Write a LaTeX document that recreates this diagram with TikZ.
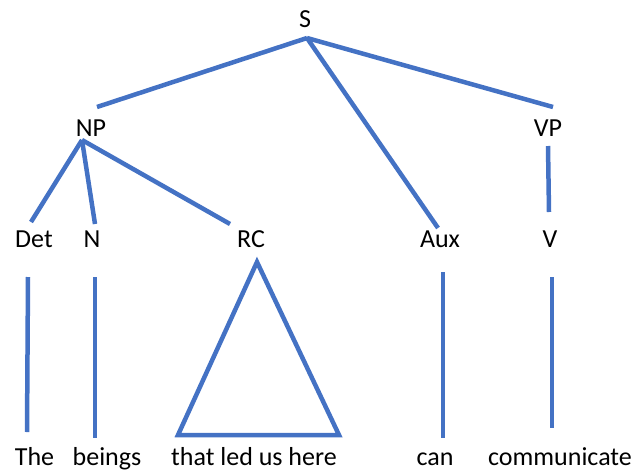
\documentclass[tikz,border=0pt]{standalone}
\usepackage{fontspec}
\setmainfont{Carlito}
\definecolor{tb}{RGB}{68,114,196}
\begin{document}
\begin{tikzpicture}[x=1pt,y=-1pt,
  lbl/.style={anchor=base,inner sep=0pt,font=\fontsize{26}{30}\selectfont},
  br/.style={draw=tb,line width=4.5pt}]
\useasboundingbox (0,0) rectangle (635,472);
% labels
\node[lbl] (S) at (305,27) {S};
\node[lbl] (NP) at (91,136) {NP};
\node[lbl] (VP) at (548,136) {VP};
\node[lbl] (Det) at (34,247) {Det};
\node[lbl] (N) at (92,247) {N};
\node[lbl] (RC) at (251,247) {RC};
\node[lbl] (Aux) at (440,247) {Aux};
\node[lbl] (V) at (550,247) {V};
\node[lbl] (The) at (34.5,465) {The};
\node[lbl] (beings) at (107,465) {beings};
\node[lbl] (tl) at (254,465) {that led us here};
\node[lbl] (can) at (435,465) {can};
\node[lbl] (comm) at (560,465) {communicate};
% line endpoints
\coordinate (Sb) at (307,38);
\coordinate (NPt) at (97,107);
\coordinate (VPt) at (553,107);
\coordinate (Auxt) at (438,228);
\coordinate (NPb) at (82,140);
\coordinate (Dett) at (31,222);
\coordinate (Nt) at (95,224);
\coordinate (RCt) at (230,224);
\coordinate (VPb) at (548,146);
\coordinate (Vt) at (549,212);
\coordinate (Detb) at (28,277);
\coordinate (Theb) at (27,432);
\coordinate (Nb) at (95,277);
\coordinate (beingst) at (95,438);
\coordinate (Auxb) at (443,272);
\coordinate (cant) at (443,438);
\coordinate (Vb) at (552,277);
\coordinate (commt) at (552,428);
\coordinate (RCa) at (257,262);
\coordinate (RCl) at (178,435);
\coordinate (RCr) at (339,435);
% branches
\draw[br] (Sb) -- (NPt);
\draw[br] (Sb) -- (VPt);
\draw[br] (Sb) -- (Auxt);
\draw[br] (NPb) -- (Dett);
\draw[br] (NPb) -- (Nt);
\draw[br] (NPb) -- (RCt);
\draw[br] (VPb) -- (Vt);
\draw[br] (Detb) -- (Theb);
\draw[br] (Nb) -- (beingst);
\draw[br] (Auxb) -- (cant);
\draw[br] (Vb) -- (commt);
\draw[br,line join=miter] (RCa) -- (RCl) -- (RCr) -- cycle;
\end{tikzpicture}
\end{document}
